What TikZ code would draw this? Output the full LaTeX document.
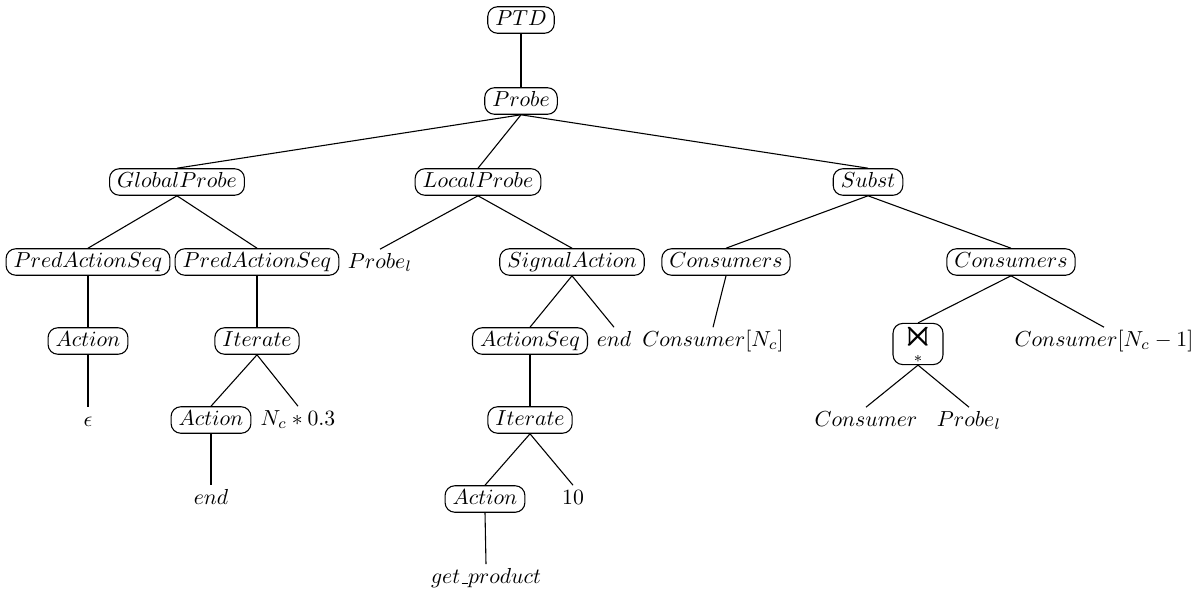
\documentclass[tikz,border=0pt]{standalone}
\usepackage{amssymb}
\newcommand{\usc}{\leavevmode\kern.06em\vbox{\hrule width.3em}}
\begin{document}
\begin{tikzpicture}[x=0.46pt,y=-0.46pt,
  box/.style={draw,rounded corners=4.5pt,inner xsep=3.5pt,inner ysep=1.6pt,
    text height=7pt,text depth=2pt,line width=0.5pt},
  leaf/.style={inner xsep=3.5pt,inner ysep=1.6pt,text height=7pt,text depth=2pt},
  joinbox/.style={draw,rounded corners=4.5pt,minimum width=23pt,minimum height=18pt,
    inner sep=0pt,line width=0.5pt},
  every path/.style={line width=0.5pt}]
\useasboundingbox (0,0) rectangle (1202,596);
% tree nodes
\node[box] (ptd) at (521,20) {$PTD$};
\node[box] (probe) at (521,101) {$Probe$};
\node[box] (gp) at (177,182) {$GlobalProbe$};
\node[box] (lp) at (478,182) {$LocalProbe$};
\node[box] (subst) at (868,182) {$Subst$};
\node[box] (pas1) at (88,262) {$PredActionSeq$};
\node[box] (pas2) at (257,262) {$PredActionSeq$};
\node[leaf] (probel1) at (380,263) {$Probe_l$};
\node[box] (sa) at (572,262) {$SignalAction$};
\node[box] (cons1) at (726,262) {$Consumers$};
\node[box] (cons2) at (1011,262) {$Consumers$};
\node[box] (act1) at (88,341) {$Action$};
\node[box] (it1) at (257,341) {$Iterate$};
\node[box] (aseq) at (530,341) {$ActionSeq$};
\node[leaf] (end1) at (614,341) {$end$};
\node[leaf] (consn) at (713,341) {$Consumer[N_c]$};
\node[joinbox] (join) at (918,344)
  {$\mathop{\vcenter{\hbox{\scalebox{1.8}{$\Join$}}}}\limits_{*}$};
\node[leaf] (consn1) at (1104,341) {$Consumer[N_c-1]$};
\node[leaf] (eps) at (88,421) {$\epsilon$};
\node[box] (act2) at (211,420) {$Action$};
\node[leaf] (nc) at (298,420) {$N_c*0.3$};
\node[box] (it2) at (530,420) {$Iterate$};
\node[leaf] (cons) at (866,421) {$Consumer$};
\node[leaf] (probel2) at (969,421) {$Probe_l$};
\node[leaf] (end2) at (211,499) {$end$};
\node[box] (act3) at (485,499) {$Action$};
\node[leaf] (ten) at (573,499) {$10$};
\node[leaf] (gprod) at (486,578) {$get\usc product$};
% edges
\foreach \p/\c in {ptd/probe, probe/gp, probe/lp, probe/subst,
  gp/pas1, gp/pas2, lp/probel1, lp/sa, subst/cons1, subst/cons2,
  pas1/act1, pas2/it1, sa/aseq, sa/end1, cons1/consn, cons2/join, cons2/consn1,
  act1/eps, it1/act2, it1/nc, aseq/it2, join/cons, join/probel2,
  act2/end2, it2/act3, it2/ten, act3/gprod}
  \draw (\p.south) -- (\c.north);
\end{tikzpicture}
\end{document}
